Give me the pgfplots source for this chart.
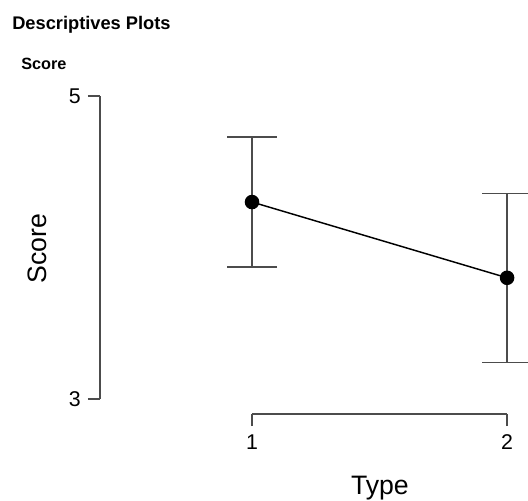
\documentclass[border=0pt]{standalone}
\usepackage{fontspec}
\setmainfont{Liberation Sans}
\usepackage{pgfplots}
\pgfplotsset{compat=1.18}
\begin{document}
\begin{tikzpicture}
% titles (positions in pt, 1px = 0.75pt)
\node[anchor=base west, inner sep=0, font=\fontsize{13.7}{16}\selectfont\bfseries]
    at (9pt,-21.75pt) {Descriptives Plots};
\node[anchor=base west, inner sep=0, font=\fontsize{12.2}{14}\selectfont\bfseries]
    at (15.75pt,-51.75pt) {Score};

\begin{axis}[
    at={(75pt,-310.5pt)}, anchor=south west,
    scale only axis, width=321pt, height=244.2pt,
    xmin=0.404, xmax=2.082, ymin=2.901, ymax=5.05,
    clip=false,
    axis lines=left,
    axis line style={draw=none, -},
    xtick={1,2}, ytick={3,5},
    tick align=outside, major tick length=9pt,
    tick style={black!70, line width=1.1pt},
    /pgf/number format/assume math mode=true,
    ticklabel style={font=\fontsize{16}{19}\selectfont},
    xticklabel style={yshift=-3pt},
    yticklabel style={xshift=-2pt},
    xlabel={Type}, ylabel={Score},
    label style={font=\fontsize{20}{24}\selectfont},
    xlabel style={at={(axis description cs:0.654,-0.2457)}, anchor=base},
    ylabel style={at={(axis description cs:-0.147,0.507)}, anchor=center},
]
% axis lines spanning only the tick range
\draw[black!70, line width=1.1pt] (axis cs:0.404,3) -- (axis cs:0.404,5);
\draw[black!70, line width=1.1pt] (axis cs:1,2.901) -- (axis cs:2,2.901);

\addplot[
    black, line width=1.1pt,
    mark=*, mark size=4.9pt, mark options={fill=black},
    error bars/.cd, y dir=both, y explicit,
    error bar style={black!70, line width=1.1pt},
    error mark=|,
    error mark options={black!70, line width=1.1pt, mark size=18.75pt},
] coordinates {
    (1, 4.30) +- (0, 0.43)
    (2, 3.80) +- (0, 0.558)
};
\end{axis}
\pgfresetboundingbox
\useasboundingbox (0pt,0pt) rectangle (396pt,-375pt);
\end{tikzpicture}
\end{document}
